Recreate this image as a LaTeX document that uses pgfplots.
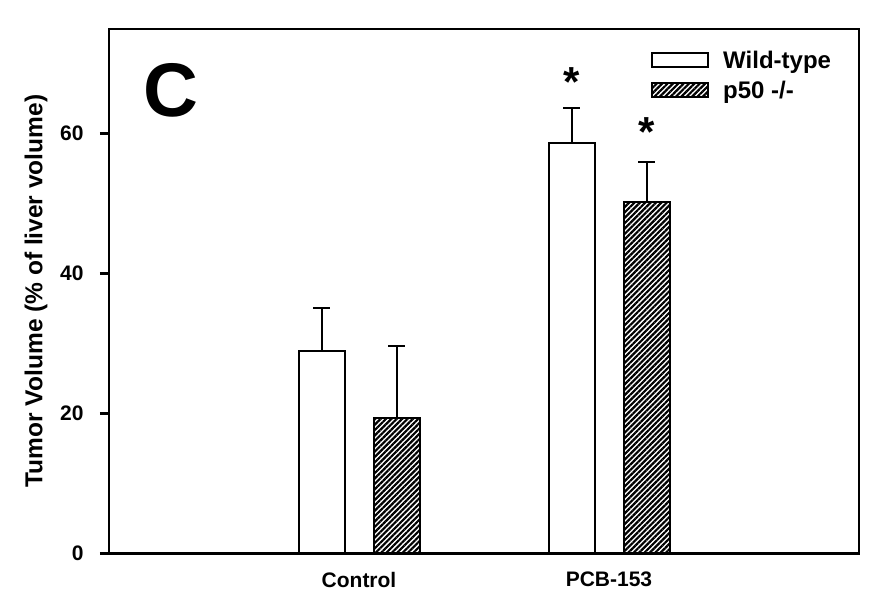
\documentclass[border=0pt]{standalone}
\usepackage{fontspec}
\setmainfont{Liberation Sans}
\usepackage{pgfplots}
\pgfplotsset{compat=1.18}
\usetikzlibrary{patterns.meta}
\begin{document}
\begin{tikzpicture}[x=1pt,y=1pt]
\path[use as bounding box] (-109,-52.7) rectangle (770,553.3);
\begin{axis}[
 at={(0,0)}, anchor=south west,
 scale only axis, width=750pt, height=524.6pt,
 xmin=0, xmax=3, ymin=0, ymax=75,
 axis line style={line width=2.4pt},
 ytick={0,20,40,60}, xtick={1,2}, xticklabels={Control,PCB-153},
 tick align=outside, major tick length=9pt,
 y tick style={line width=2.4pt, black},
 x tick style={draw=none},
 ytick pos=left, xtick pos=bottom,
 tick label style={font=\bfseries\fontsize{21}{23}\selectfont},
 xticklabel style={yshift=-6pt},
 yticklabel style={xshift=-13pt},
 /pgf/number format/assume math mode=true,
 ylabel={Tumor Volume (\% of liver volume)},
 ylabel style={font=\bfseries\fontsize{24.5}{26}\selectfont, at={(axis description cs:-0.0973,0.5)}, anchor=center},
 ybar, bar width=46pt,
 legend image code/.code={\draw[#1, line width=2pt] (0pt,-7pt) rectangle (56pt,7pt);},
 legend style={at={(rel axis cs:0.7227,0.962)}, anchor=north west, draw=none, fill=none, inner sep=0pt, row sep=7pt,
   font=\bfseries\fontsize{24}{26}\selectfont,
   /tikz/every odd column/.append style={column sep=12pt}},
 legend cell align=left,
]
\addplot[bar shift=-37.5pt, draw=black, line width=2pt, fill=white,
  error bars/.cd, y dir=plus, y explicit,
  error bar style={line width=2pt, black},
  error mark options={rotate=90, mark size=8.5pt, line width=2pt, black}]
  coordinates {(1,28.9) +- (0,6.2) (2,58.7) +- (0,4.9)};
\addlegendentry{Wild-type}
\addplot[bar shift=37.5pt, draw=black, line width=2pt, pattern={Lines[angle=45,distance=3.8pt,line width=2.2pt]},
  error bars/.cd, y dir=plus, y explicit,
  error bar style={line width=2pt, black},
  error mark options={rotate=90, mark size=8.5pt, line width=2pt, black}]
  coordinates {(1,19.4) +- (0,10.3) (2,50.2) +- (0,5.8)};
\addlegendentry{p50 -/-}
\node[font=\bfseries\fontsize{42}{42}\selectfont, inner sep=0pt, anchor=base] at (axis cs:1.85,65.3) {*};
\node[font=\bfseries\fontsize{42}{42}\selectfont, inner sep=0pt, anchor=base] at (axis cs:2.15,58.1) {*};
\node[font=\bfseries\fontsize{76}{76}\selectfont, inner sep=0pt, anchor=base west] at (rel axis cs:0.0453,0.8317) {C};
\end{axis}
\end{tikzpicture}
\end{document}
